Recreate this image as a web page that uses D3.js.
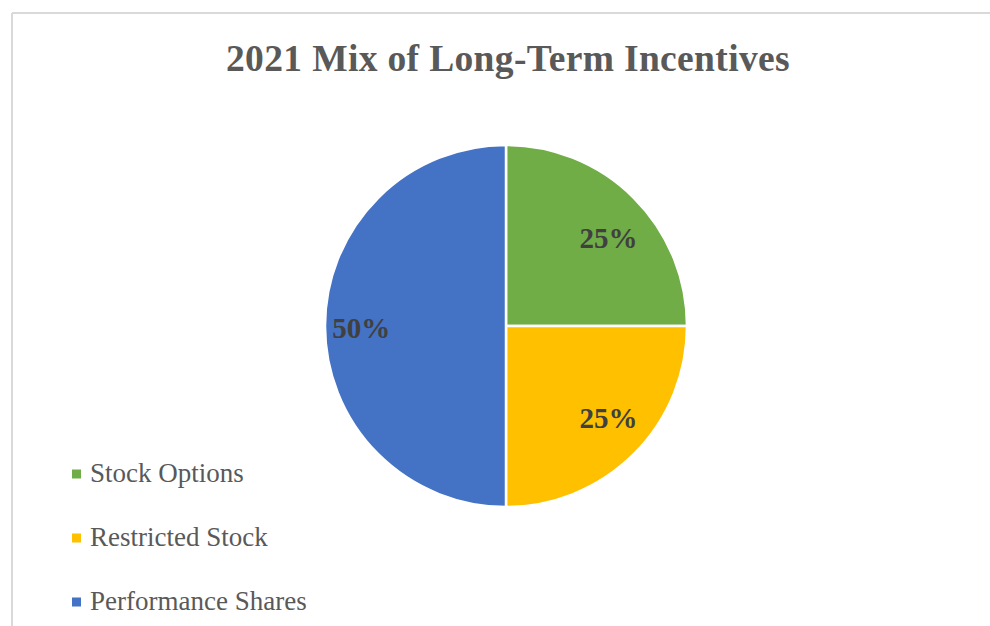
<!DOCTYPE html>
<html>
<head>
<meta charset="utf-8">
<script src="https://cdn.jsdelivr.net/npm/d3@7"></script>
<style>
  body { margin: 0; background: #fff; }
  svg { display: block; }
</style>
</head>
<body>
<svg id="chart" width="990" height="626"></svg>
<script>
// chart data
var categories = ["Stock Options", "Restricted Stock", "Performance Shares"];
var values = [25, 25, 50];
var colors = ["#70AD47", "#FFC000", "#4472C4"];
var title = "2021 Mix of Long-Term Incentives";

var svg = d3.select("#chart");
var width = 990, height = 626;
var serif = "'Liberation Serif', 'Times New Roman', serif";

// light frame (only top and left are visible in the crop)
svg.append("line").attr("x1", 12).attr("y1", 13).attr("x2", width).attr("y2", 13)
  .style("stroke", "#d9d9d9").style("stroke-width", 2);
svg.append("line").attr("x1", 12).attr("y1", 13).attr("x2", 12).attr("y2", height)
  .style("stroke", "#d9d9d9").style("stroke-width", 2);

svg.append("text")
  .attr("x", 508).attr("y", 71)
  .attr("text-anchor", "middle")
  .style("font-family", serif)
  .style("font-weight", "bold")
  .style("font-size", "37.5px")
  .style("letter-spacing", "0.35px")
  .style("fill", "#595959")
  .text(title);

var cx = 506, cy = 326, r = 181;
var pie = d3.pie().sort(null).value(function (d) { return d; });
var arc = d3.arc().innerRadius(0).outerRadius(r);
var lab = d3.arc().innerRadius(r * 0.8).outerRadius(r * 0.8);
var arcs = pie(values);

var g = svg.append("g").attr("transform", "translate(" + cx + "," + cy + ")");
g.selectAll(".slice")
  .data(arcs)
  .enter().append("path")
  .attr("class", "slice")
  .attr("d", arc)
  .style("fill", function (d, i) { return colors[i]; })
  .style("stroke", "#fff")
  .style("stroke-width", 2.5);

// labels pulled a bit toward the horizontal middle, like the original
g.selectAll(".lbl")
  .data(arcs)
  .enter().append("text")
  .attr("class", "lbl")
  .attr("transform", function (d) {
    var c = lab.centroid(d);
    return "translate(" + c[0] + "," + (c[1] * 0.88 + 12) + ")";
  })
  .attr("text-anchor", "middle")
  .style("font-family", serif)
  .style("font-weight", "bold")
  .style("font-size", "29px")
  .style("fill", "#404040")
  .text(function (d) { return d.data + "%"; });

// legend
var leg = svg.append("g");
var item = leg.selectAll(".item")
  .data(categories)
  .enter().append("g")
  .attr("class", "item")
  .attr("transform", function (d, i) { return "translate(72," + (474 + i * 64) + ")"; });
item.append("rect")
  .attr("x", 0).attr("y", -4.5).attr("width", 9).attr("height", 9)
  .style("fill", function (d, i) { return colors[i]; });
item.append("text")
  .attr("x", 18).attr("y", 8)
  .style("font-family", serif)
  .style("font-size", "27px")
  .style("fill", "#595959")
  .text(function (d) { return d; });
</script>
</body>
</html>
